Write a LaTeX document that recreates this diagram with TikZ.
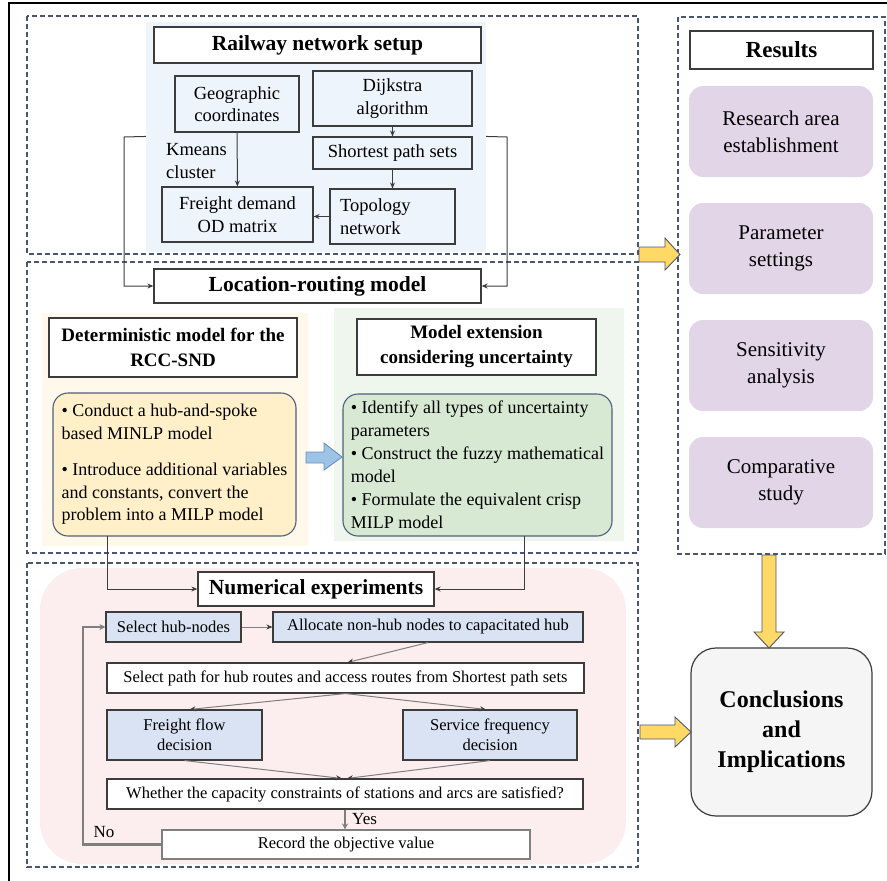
\documentclass[tikz,border=0pt]{standalone}
\usepackage{fontspec}
\setmainfont{Liberation Serif}
\usetikzlibrary{arrows.meta,calc}
\newcommand\fsz[2]{\fontsize{#1}{#2}\selectfont}
\definecolor{dashc}{HTML}{4A5670}
\definecolor{edgec}{HTML}{3C3C3C}
\definecolor{bluebgc}{HTML}{EEF4FB}
\definecolor{ybgc}{HTML}{FFF9EB}
\definecolor{yboxc}{HTML}{FFF0C9}
\definecolor{gbgc}{HTML}{EEF6EE}
\definecolor{gboxc}{HTML}{D7E8D3}
\definecolor{rbord}{HTML}{4F5F80}
\definecolor{barrowc}{HTML}{9DC3E6}
\definecolor{barrowd}{HTML}{6A8EB8}
\definecolor{pinkc}{HTML}{FCEEEE}
\definecolor{flowc}{HTML}{DAE3F3}
\definecolor{grayc}{HTML}{7F7F7F}
\definecolor{purpc}{HTML}{E3D5E8}
\definecolor{yarrowc}{HTML}{FFD966}
\definecolor{conclc}{HTML}{F5F5F5}
\begin{document}
\begin{tikzpicture}[x=1pt,y=-1pt,
  dbox/.style={draw=dashc,dash pattern=on 5pt off 3pt,line width=1.1pt},
  bgbox/.style={draw=none,inner sep=0pt},
  tbox/.style={draw=edgec,line width=1.1pt,fill=bluebgc,inner sep=0pt,align=center,font=\fsz{18.5}{22.5}},
  titlebox/.style={draw=edgec,line width=1.3pt,fill=white,inner sep=0pt,align=center,font=\bfseries\fsz{21.5}{24}},
  subbox/.style={draw=edgec,line width=1.3pt,fill=white,inner sep=0pt,align=center,font=\bfseries\fsz{19}{25}},
  fbox/.style={draw=edgec,line width=1.1pt,inner sep=0pt,align=center,font=\fsz{16.5}{20}},
  bulbox/.style={draw=rbord,line width=1.1pt,rounded corners=15pt,inner sep=0pt,align=left,font=\fsz{18}{22.5}},
  arr/.style={draw=edgec,line width=1pt,-{Stealth[length=6pt,width=5pt]}},
  garr/.style={draw=grayc,line width=1pt,-{Stealth[length=6pt,width=5pt,color=edgec]}},
  tarr/.style={draw=grayc,line width=2.2pt,-{Stealth[length=6pt,width=6pt]}},
  purpbox/.style={fill=purpc,rounded corners=14pt,inner sep=0pt,align=center,font=\fsz{21}{27}},
  yarrow/.style={fill=yarrowc,draw=dashc,line width=0.9pt,line join=miter}
]
\useasboundingbox (0,0) rectangle (887,881);
% outer frame lines
\draw[black,line width=1.5pt] (9,881) -- (9,3) -- (887,3);

% dashed group boxes
\draw[dbox] (27,16) rectangle (638,254);
\draw[dbox] (27,262) rectangle (638,553);
\draw[dbox] (27,563) rectangle (638,867);
\draw[dbox] (678,17) rectangle (885,554);

% backgrounds
\node[bgbox,fill=bluebgc,minimum width=340,minimum height=230] (bluebg) at (316,137) {};
\node[bgbox,fill=ybgc,minimum width=266,minimum height=233] (ybg) at (175,429.5) {};
\node[bgbox,fill=gbgc,minimum width=290,minimum height=233] (gbg) at (479,424.5) {};
\node[bgbox,fill=pinkc,rounded corners=42pt,minimum width=586,minimum height=296] (pinkbg) at (333,716) {};

% ---- Railway network setup ----
\node[titlebox,minimum width=327,minimum height=36] (rail) at (317.5,45) {Railway network setup};
\node[tbox,minimum width=124,minimum height=56] (geo) at (237,104) {Geographic\\coordinates};
\node[tbox,minimum width=159,minimum height=55] (dijk) at (392.5,98.5) {Dijkstra\\algorithm};
\node[tbox,minimum width=159,minimum height=32] (spath) at (392.5,153) {Shortest path sets};
\node[tbox,inner xsep=10pt,text width=105,align=left,minimum height=55] (topo) at (392.5,216.5) {Topology\\network};
\node[tbox,minimum width=151,minimum height=55] (fdod) at (237.5,214.5) {Freight demand\\OD matrix};
\node[anchor=west,align=left,inner sep=0pt,font=\fsz{18.5}{23}] (kmeans) at (166,161.5) {Kmeans\\cluster};

\draw[arr] (geo) -- (fdod);
\draw[arr] (dijk) -- (spath);
\draw[arr] (spath) -- (topo);
\draw[arr] (topo.west) -- (topo.west -| fdod.east);

% ---- Location-routing ----
\node[titlebox,minimum width=327,minimum height=34] (loc) at (317.5,286) {Location-routing model};
\coordinate (lb) at (124,137);
\coordinate (rb) at (507,137);
\draw[arr] (bluebg.west |- spath.north) -- (lb) |- (loc.west);
\draw[arr] (bluebg.east |- spath.north) -- (rb) |- (loc.east);

\node[subbox,minimum width=248,minimum height=59] (det) at (173,347.5) {Deterministic model for the\\RCC-SND};
\node[subbox,minimum width=239,minimum height=56] (ext) at (476.5,347) {Model extension\\considering uncertainty};

\node[bulbox,fill=yboxc,minimum width=243,minimum height=143] (ybox) at (174.5,464.5)
 {• Conduct a hub-and-spoke\\based MINLP model\\[14pt]• Introduce additional variables\\and constants, convert the\\problem into a MILP model};
\node[bulbox,fill=gboxc,minimum width=269,minimum height=142,font=\fsz{18}{23}] (gbox) at (477.5,465)
 {• Identify all types of uncertainty\\parameters\\• Construct the fuzzy mathematical\\model\\• Formulate the equivalent crisp\\MILP model};

% blue block arrow
\draw[fill=barrowc,draw=barrowd,line width=0.9pt] (306,452) -- (324,452) -- (324,443) -- (342,457) -- (324,470) -- (324,463) -- (306,463) -- cycle;

% ---- Numerical experiments ----
\node[titlebox,minimum width=236,minimum height=34] (num) at (316,589) {Numerical experiments};
\coordinate (yd) at (107,536);
\coordinate (gd) at (524,536);
\draw[arr] (yd) |- (num.west);
\draw[arr] (gd) |- (num.east);

\node[fbox,fill=flowc,minimum width=135,minimum height=30] (sel) at (173.5,627) {Select hub-nodes};
\node[fbox,fill=flowc,minimum width=310,minimum height=30] (alloc) at (428,627) {Allocate non-hub nodes to capacitated hub};
\node[fbox,fill=white,minimum width=477,minimum height=30] (selp) at (345.5,678) {Select path for hub routes and access routes from Shortest path sets};
\node[fbox,fill=flowc,minimum width=155,minimum height=50] (ffd) at (184.5,735) {Freight flow\\decision};
\node[fbox,fill=flowc,minimum width=174,minimum height=50] (sfd) at (490,735) {Service frequency\\decision};
\node[fbox,fill=white,minimum width=476,minimum height=30] (cap) at (345,794) {Whether the capacity constraints of stations and arcs are satisfied?};
\node[fbox,draw=grayc,fill=white,minimum width=368,minimum height=29] (rec) at (346,844.5) {Record the objective value};

\draw[garr] (sel) -- (alloc);
\draw[garr] (alloc.south) -- ([xshift=2pt]selp.north);
\draw[garr] (selp.south) -- ([xshift=5pt]ffd.north);
\draw[garr] (selp.south) -- ([xshift=-4pt]sfd.north);
\draw[garr] (ffd.south) -- ([xshift=-3pt]cap.north);
\draw[garr] (sfd.south) -- ([xshift=2pt]cap.north);
\draw[tarr] (cap.south) -- (cap.south |- rec.north);
\node[anchor=west,inner sep=0pt,font=\fsz{17}{20}] (yes) at (352,819) {Yes};
\coordinate (nb) at (83,844.5);
\draw[tarr] (rec.west) -- (nb) |- (sel.west);
\node[inner sep=0pt,font=\fsz{17}{20}] (no) at (104,832) {No};

% ---- Results ----
\node[titlebox,font=\bfseries\fsz{23}{26},minimum width=183,minimum height=38] (res) at (781.5,50) {Results};
\node[purpbox,minimum width=184,minimum height=91] (r1) at (781,131.5) {Research area\\establishment};
\node[purpbox,minimum width=184,minimum height=91] (r2) at (781,248.5) {Parameter\\settings};
\node[purpbox,minimum width=184,minimum height=91] (r3) at (781,365.5) {Sensitivity\\analysis};
\node[purpbox,minimum width=184,minimum height=91] (r4) at (781,482.5) {Comparative\\study};

\node[draw=edgec,line width=1.2pt,fill=conclc,rounded corners=25pt,minimum width=181,minimum height=168,align=center,inner sep=0pt,font=\bfseries\fsz{24}{30}] (concl) at (781.5,732) {Conclusions\\and\\Implications};

% yellow block arrows
\draw[yarrow] (639,247) -- (665,247) -- (665,238) -- (680,254.5) -- (665,270) -- (665,262) -- (639,262) -- cycle;
\draw[yarrow] (762,555) -- (776,555) -- (776,632) -- (784,632) -- (769,648) -- (754,632) -- (762,632) -- cycle;
\draw[yarrow] (640,725) -- (675,725) -- (675,717) -- (691,732) -- (675,747) -- (675,739) -- (640,739) -- cycle;
\end{tikzpicture}
\end{document}
